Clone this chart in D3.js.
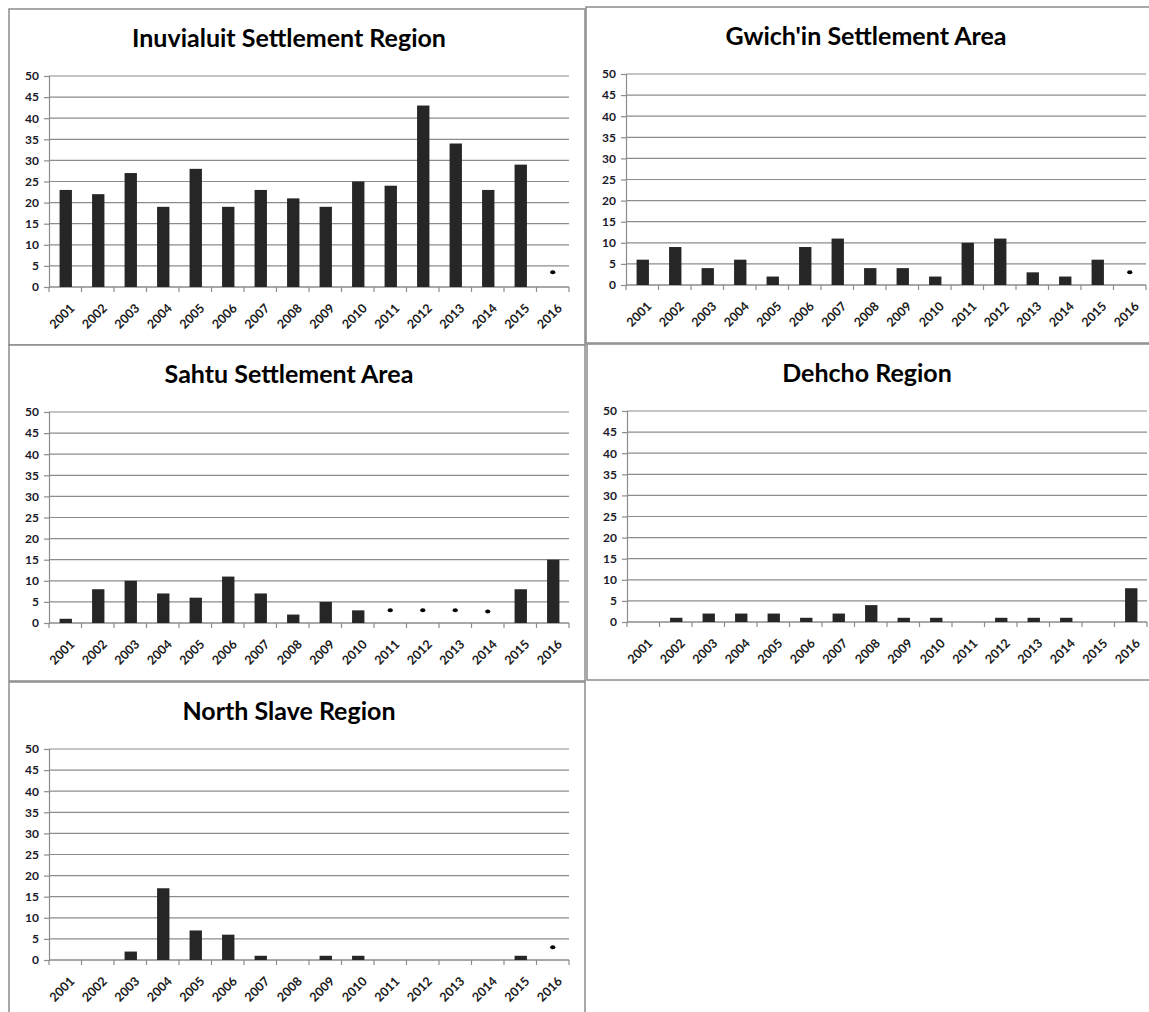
<!DOCTYPE html>
<html lang="en">
<head>
    <meta charset="UTF-8">
    <title>Regions</title>
    <script src="https://cdn.jsdelivr.net/npm/d3@7"></script>
    <style>
        body { margin: 0; background: #fff; }
        svg { display: block; }
    </style>
</head>
<body>
    <script>
        const years = ["2001","2002","2003","2004","2005","2006","2007","2008","2009","2010","2011","2012","2013","2014","2015","2016"];
        const yTicks = [0, 5, 10, 15, 20, 25, 30, 35, 40, 45, 50];

        const titles = ["Inuvialuit Settlement Region", "Gwich'in Settlement Area", "Sahtu Settlement Area", "Dehcho Region", "North Slave Region"];

        // null = suppressed value, shown with a small marker instead
        const inuvialuit = [23, 22, 27, 19, 28, 19, 23, 21, 19, 25, 24, 43, 34, 23, 29, null];
        const gwichin    = [6, 9, 4, 6, 2, 9, 11, 4, 4, 2, 10, 11, 3, 2, 6, null];
        const sahtu      = [1, 8, 10, 7, 6, 11, 7, 2, 5, 3, null, null, null, null, 8, 15];
        const dehcho     = [0, 1, 2, 2, 2, 1, 2, 4, 1, 1, 0, 1, 1, 1, 0, 8];
        const northSlave = [0, 0, 2, 17, 7, 6, 1, 0, 1, 1, 0, 0, 0, 0, 1, null];

        // marker heights for the suppressed years
        const inuvialuitMarks = [["2016", 3.5]];
        const gwichinMarks    = [["2016", 3]];
        const sahtuMarks      = [["2011", 3], ["2012", 3], ["2013", 3], ["2014", 2.7]];
        const dehchoMarks     = [];
        const northSlaveMarks = [["2016", 3]];

        const series = [inuvialuit, gwichin, sahtu, dehcho, northSlave];
        const marks = [inuvialuitMarks, gwichinMarks, sahtuMarks, dehchoMarks, northSlaveMarks];

        // panel boxes (top-left corners)
        const boxes = [[9, 9], [586, 7], [9, 345], [587, 344], [9, 682]];
        const boxW = 576, boxH = 336;

        const width = 1149, height = 1012;
        const svg = d3.select("body").append("svg")
            .attr("width", width)
            .attr("height", height)
            .style("font-family", "Lato, 'Open Sans', sans-serif");

        const plotLeft = 40, plotRight = 560, plotTop = 67, plotBottom = 278;
        const grey = "#8c8c8c";

        series.forEach((vals, i) => {
            const [bx, by] = boxes[i];
            const g = svg.append("g").attr("transform", `translate(${bx},${by})`);

            g.append("rect")
                .attr("width", boxW)
                .attr("height", boxH)
                .attr("fill", "#fff")
                .attr("stroke", grey)
                .attr("stroke-width", 1.5);

            g.append("text")
                .attr("x", boxW / 2 - 8)
                .attr("y", 38)
                .attr("text-anchor", "middle")
                .attr("font-size", 25)
                .attr("font-weight", "bold")
                .attr("fill", "#000")
                .text(titles[i]);

            const x = d3.scaleBand().domain(years).range([plotLeft, plotRight]);
            const y = d3.scaleLinear().domain([0, 50]).range([plotBottom, plotTop]);

            // gridlines
            g.append("g")
                .selectAll("line")
                .data(yTicks)
                .join("line")
                .attr("x1", plotLeft)
                .attr("x2", plotRight)
                .attr("y1", d => y(d))
                .attr("y2", d => y(d))
                .attr("stroke", grey)
                .attr("stroke-width", 1.2);

            // y axis
            const yAxis = g.append("g")
                .attr("transform", `translate(${plotLeft},0)`)
                .call(d3.axisLeft(y).tickValues(yTicks).tickSize(5).tickPadding(5));
            yAxis.select(".domain").attr("stroke", grey).attr("stroke-width", 1.2);
            yAxis.selectAll(".tick line").attr("stroke", grey).attr("stroke-width", 1.2);
            yAxis.selectAll(".tick text")
                .attr("font-size", 12)
                .attr("font-weight", "bold")
                .attr("font-family", "Lato, sans-serif")
                .attr("fill", "#1a1a2a");

            // x axis with ticks between categories
            const xAxis = g.append("g")
                .attr("transform", `translate(0,${plotBottom})`);
            xAxis.append("line")
                .attr("x1", plotLeft).attr("x2", plotRight)
                .attr("stroke", grey).attr("stroke-width", 1.2);
            xAxis.selectAll("line.tk")
                .data(years.concat(["end"]))
                .join("line")
                .attr("class", "tk")
                .attr("x1", (d, j) => plotLeft + j * x.bandwidth())
                .attr("x2", (d, j) => plotLeft + j * x.bandwidth())
                .attr("y1", 0).attr("y2", 5)
                .attr("stroke", grey).attr("stroke-width", 1.2);
            xAxis.selectAll("text")
                .data(years)
                .join("text")
                .attr("transform", d => `translate(${x(d) + x.bandwidth() / 2 + 7},${19}) rotate(-45)`)
                .attr("text-anchor", "end")
                .attr("dy", "0.35em")
                .attr("font-size", 12.5)
                .attr("font-weight", "bold")
                .attr("fill", "#1a1a1a")
                .text(d => d);

            // bars
            const bw = x.bandwidth() * 0.38;
            g.append("g")
                .selectAll("rect")
                .data(years.map((yr, j) => ({ yr, v: vals[j] })).filter(d => d.v !== null && d.v > 0))
                .join("rect")
                .attr("x", d => x(d.yr) + (x.bandwidth() - bw) / 2 + 0.5)
                .attr("y", d => y(d.v))
                .attr("width", bw)
                .attr("height", d => y(0) - y(d.v))
                .attr("fill", "#262626");

            // suppressed markers
            g.append("g")
                .selectAll("ellipse")
                .data(marks[i])
                .join("ellipse")
                .attr("cx", d => x(d[0]) + x.bandwidth() / 2)
                .attr("cy", d => y(d[1]))
                .attr("rx", 2.6)
                .attr("ry", 2)
                .attr("fill", "#000");
        });
    </script>
</body>
</html>
